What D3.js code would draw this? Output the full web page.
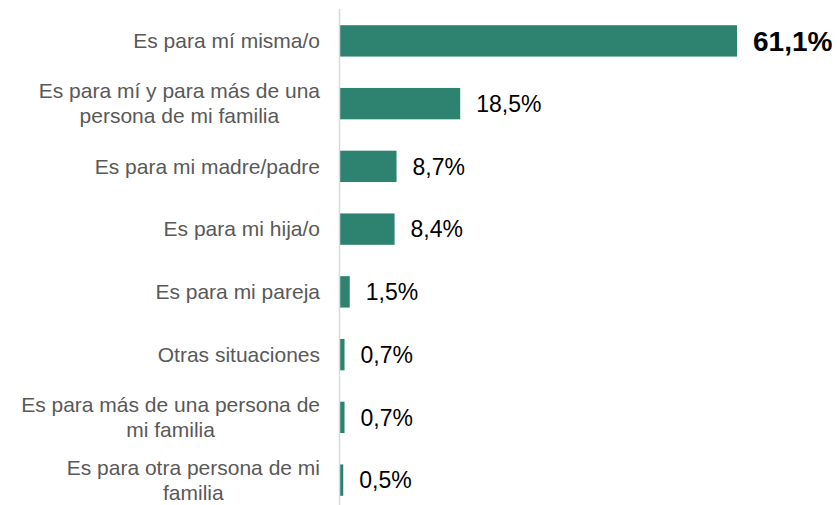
<!DOCTYPE html>
<html>
<head>
<meta charset="utf-8">
<script src="https://cdn.jsdelivr.net/npm/d3@7"></script>
<style>
  body { margin: 0; background: #fff; }
  text { font-family: "Liberation Sans", Arial, sans-serif; }
</style>
</head>
<body>
<div id="chart"></div>
<script>
// Data
var categories = [
  ["Es para mí misma/o"],
  ["Es para mí y para más de una", "persona de mi familia"],
  ["Es para mi madre/padre"],
  ["Es para mi hija/o"],
  ["Es para mi pareja"],
  ["Otras situaciones"],
  ["Es para más de una persona de", "mi familia"],
  ["Es para otra persona de mi", "familia"]
];
var values = [61.1, 18.5, 8.7, 8.4, 1.5, 0.7, 0.7, 0.5];
var valueLabels = ["61,1%", "18,5%", "8,7%", "8,4%", "1,5%", "0,7%", "0,7%", "0,5%"];

var width = 837, height = 505;
var barColor = "#2e8370";
var axisX = 340;

var svg = d3.select("#chart").append("svg")
  .attr("width", width)
  .attr("height", height);

var ids = d3.range(values.length);

var xScale = d3.scaleLinear()
  .domain([0, 61.1])
  .range([axisX, 737]);

var yScale = d3.scaleBand()
  .domain(ids)
  .range([9.5, 511.5])
  .paddingInner(0.5)
  .paddingOuter(0.25);

// bars
svg.selectAll("rect.bar")
  .data(ids)
  .enter()
  .append("rect")
  .attr("class", "bar")
  .attr("x", xScale(0))
  .attr("y", function (i) { return yScale(i); })
  .attr("width", function (i) { return xScale(values[i]) - xScale(0); })
  .attr("height", yScale.bandwidth())
  .attr("fill", barColor);

// axis line
svg.append("line")
  .attr("x1", axisX - 0.5).attr("x2", axisX - 0.5)
  .attr("y1", 9).attr("y2", height)
  .attr("stroke", "#d9d9d9")
  .attr("stroke-width", 1.5);

// value labels
svg.selectAll("text.val")
  .data(ids)
  .enter()
  .append("text")
  .attr("class", "val")
  .attr("x", function (i) { return xScale(values[i]) + 16; })
  .attr("y", function (i) { return yScale(i) + yScale.bandwidth() / 2; })
  .attr("dy", "0.36em")
  .style("font-size", function (i) { return i === 0 ? "28px" : "23px"; })
  .style("font-weight", function (i) { return i === 0 ? "bold" : "normal"; })
  .attr("fill", "#000")
  .text(function (i) { return valueLabels[i]; });

// category labels: block right-aligned, lines centred in block
var lineH = 25;
var rightEdge = 320;
ids.forEach(function (i) {
  var lines = categories[i];
  var cy = yScale(i) + yScale.bandwidth() / 2;
  var t = svg.append("text")
    .attr("class", "cat")
    .attr("text-anchor", "middle")
    .attr("fill", "#595959")
    .style("font-size", "21px");
  var spans = lines.map(function (l, k) {
    return t.append("tspan")
      .attr("y", cy + (k - (lines.length - 1) / 2) * lineH)
      .attr("dy", "0.35em")
      .text(l);
  });
  var maxW = d3.max(spans, function (s) { return s.node().getComputedTextLength(); });
  spans.forEach(function (s) { s.attr("x", rightEdge - maxW / 2); });
});
</script>
</body>
</html>
